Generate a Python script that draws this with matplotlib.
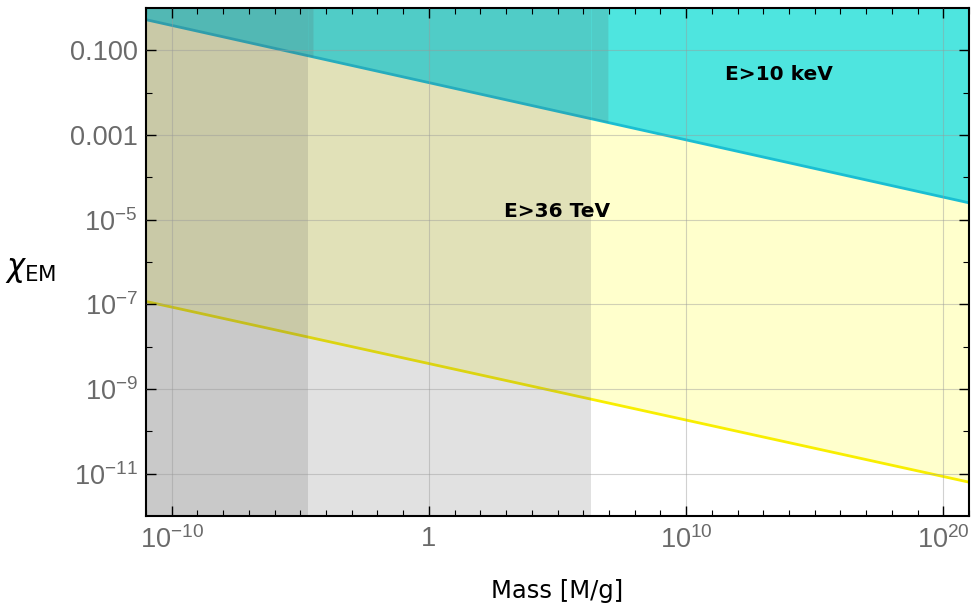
import numpy as np
import matplotlib
matplotlib.use('Agg')
import matplotlib.pyplot as plt
from matplotlib.ticker import FixedLocator, FixedFormatter, NullFormatter

plt.rcParams['font.family'] = 'Liberation Sans'
plt.rcParams['mathtext.fontset'] = 'custom'
plt.rcParams['mathtext.rm'] = 'Liberation Sans'
plt.rcParams['mathtext.it'] = 'Liberation Sans:italic'
plt.rcParams['mathtext.bf'] = 'Liberation Sans:bold'

# bounding lines (at the plot edges)
mass = [1e-11, 1e21]
chi_10kev = [0.53, 2.5e-5]
chi_36tev = [1.17e-7, 6.3e-12]

# gray mass bands: upper edge below / above the keV line
band_inner = [1.95e-5, 3.1e-5]
band_outer = [2.0e6, 9.1e6]

x_major = [1e-10, 1, 1e10, 1e20]
x_labels = [r'$10^{-10}$', '1', r'$10^{10}$', r'$10^{20}$']
y_major = [1e-11, 1e-9, 1e-7, 1e-5, 1e-3, 1e-1]
y_labels = [r'$10^{-11}$', r'$10^{-9}$', r'$10^{-7}$', r'$10^{-5}$', '0.001', '0.100']

x_min, x_max = 1e-11, 1e21
y_min, y_max = 1e-12, 1.0


def kev_line(m):
    return 10 ** np.interp(np.log10(m), np.log10(mass), np.log10(chi_10kev))


fig = plt.figure(figsize=(9.72, 6.07), dpi=100)
ax = fig.add_axes([146 / 972, 91 / 607, 823 / 972, 508 / 607])
ax.set_xscale('log')
ax.set_yscale('log')

# allowed regions
ax.fill_between(mass, chi_36tev, chi_10kev, color='#FFFFCC', lw=0, zorder=1)
ax.fill_between(mass, chi_10kev, y_max, color='#4EE5DF', lw=0, zorder=1)

ax.plot(mass, chi_10kev, color='#1ABED2', lw=2, zorder=2)
ax.plot(mass, chi_36tev, color='#F8EE00', lw=2, zorder=2)

# gray mass bands drawn over everything
gray = dict(color='#5E5E5E', alpha=0.18, lw=0, zorder=2.2)
for edge in (band_outer, band_inner):
    ax.fill_between([x_min, edge[0]], y_min, y_max, **gray)
    xs = np.array(edge)
    ax.fill_between(xs, kev_line(xs), y_max, **gray)

ax.text(10 ** 13.6, 10 ** -1.56, 'E>10 keV', ha='center', va='center',
        fontsize=14.5, weight='bold', family='DejaVu Sans', zorder=3)
ax.text(10 ** 5.0, 10 ** -4.81, 'E>36 TeV', ha='center', va='center',
        fontsize=14.5, weight='bold', family='DejaVu Sans', zorder=3)

ax.set_xlim(x_min, x_max)
ax.set_ylim(y_min, y_max)

ax.xaxis.set_major_locator(FixedLocator(x_major))
ax.xaxis.set_major_formatter(FixedFormatter(x_labels))
ax.xaxis.set_minor_locator(FixedLocator([10.0 ** k for k in range(-11, 22) if k % 10 != 0]))
ax.xaxis.set_minor_formatter(NullFormatter())
ax.yaxis.set_major_locator(FixedLocator(y_major))
ax.yaxis.set_major_formatter(FixedFormatter(y_labels))
ax.yaxis.set_minor_locator(FixedLocator([10.0 ** k for k in range(-10, 0, 2)]))
ax.yaxis.set_minor_formatter(NullFormatter())

ax.set_axisbelow(False)
ax.grid(True, which='major', color='#9a9a9a', lw=0.8, alpha=0.45)
ax.tick_params(which='both', direction='in', top=True, right=True,
               color='black', labelcolor='#6a6a6a', labelsize=19.5)
ax.tick_params(which='major', length=7, width=1)
ax.tick_params(which='minor', length=4, width=0.8)
ax.tick_params(axis='x', pad=7)
ax.tick_params(axis='y', pad=6)
for s in ax.spines.values():
    s.set_linewidth(1.5)

ax.set_xlabel('Mass [M/g]', fontsize=17.5, family='DejaVu Sans', va='center')
ax.xaxis.set_label_coords(0.5, -0.148)
ax.set_ylabel(r'$\chi_{\mathrm{EM}}$', fontsize=22, rotation=0, ha='center',
              va='center', math_fontfamily='dejavusans')
ax.yaxis.set_label_coords(-0.14, 0.484)

fig.savefig('out.png', dpi=100)
